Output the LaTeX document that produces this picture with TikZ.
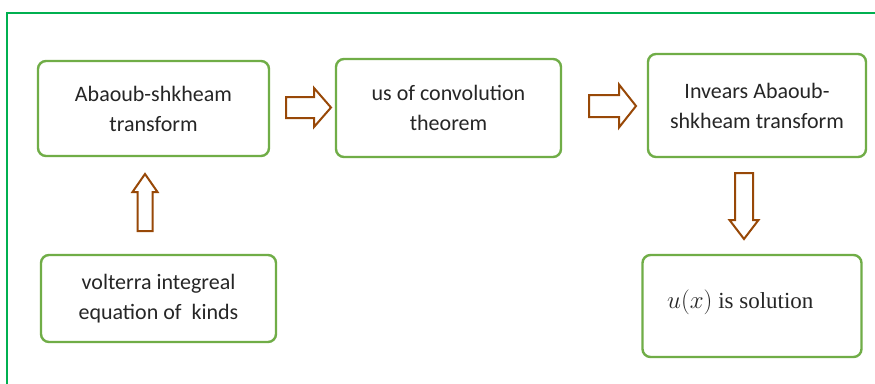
\documentclass[tikz,border=0pt]{standalone}
\usepackage{fontspec}
\setmainfont{Carlito}
\newfontfamily\serifx{Liberation Serif}
\usetikzlibrary{calc}
\definecolor{boxgreen}{HTML}{70AD47}
\definecolor{framegreen}{HTML}{00B050}
\definecolor{arrbrown}{HTML}{984807}
\definecolor{txt}{HTML}{262626}
\tikzset{
  stepbox/.style={draw=boxgreen, line width=2.4pt, rounded corners=8pt, fill=white,
    align=center, text=txt, inner sep=0pt, font=\fontsize{22}{30}\selectfont},
  barrow/.style={draw=arrbrown, line width=2pt, fill=white, line join=miter},
}
\newcommand\BlockH[5]{% start, end, shaft half, head half, head length
  \draw[barrow] ($(#1)+(0,-#3)$) -- ($(#2)+(-#5,-#3)$) -- ($(#2)+(-#5,-#4)$) -- (#2)
    -- ($(#2)+(-#5,#4)$) -- ($(#2)+(-#5,#3)$) -- ($(#1)+(0,#3)$) -- cycle;}
\newcommand\BlockV[5]{% start, end (vertical), shaft half, head half, head length (signed)
  \draw[barrow] ($(#1)+(-#3,0)$) -- ($(#2)+(-#3,-#5)$) -- ($(#2)+(-#4,-#5)$) -- (#2)
    -- ($(#2)+(#4,-#5)$) -- ($(#2)+(#3,-#5)$) -- ($(#1)+(#3,0)$) -- cycle;}
\begin{document}
\begin{tikzpicture}[x=1pt, y=-1pt]
\useasboundingbox (0,0) rectangle (875,383);
\fill[white] (0,0) rectangle (875,383);
% outer frame
\draw[framegreen, line width=2.4pt] (7,400) -- (7,13) -- (900,13);
% boxes
\node[stepbox, minimum width=231pt, minimum height=95pt] (b1) at (153.5,108.5) {Abaoub-shkheam\\transform};
\node[stepbox, minimum width=225pt, minimum height=98pt] (b2) at (448.5,108) {us of convolution\\theorem};
\node[stepbox, minimum width=218pt, minimum height=103pt] (b3) at (757,105.5) {Invears Abaoub-\\shkheam transform};
\node[stepbox, minimum width=235pt, minimum height=87pt] (b4) at (158.5,298.5) {volterra integreal\\equation of\ \ kinds};
\node[stepbox, minimum width=219pt, minimum height=102pt] (b5) at (752,306) {};
\node[anchor=base west, inner sep=0pt, text=txt, font=\serifx\fontsize{23}{28}\selectfont] (t5) at (667,308) {$u(x)$ is solution};
% block arrows
\coordinate (a1s) at (286,107.5); \coordinate (a1e) at (331,107.5);
\BlockH{a1s}{a1e}{10.5}{19.5}{17}
\coordinate (a2s) at (589,106); \coordinate (a2e) at (636,106);
\BlockH{a2s}{a2e}{11}{21.5}{17}
\coordinate (a3s) at (145,231); \coordinate (a3e) at (145,174);
\BlockV{a3s}{a3e}{7.5}{12.5}{-18}
\coordinate (a4s) at (744,173); \coordinate (a4e) at (744,239);
\BlockV{a4s}{a4e}{9}{14.5}{19}
\end{tikzpicture}
\end{document}
